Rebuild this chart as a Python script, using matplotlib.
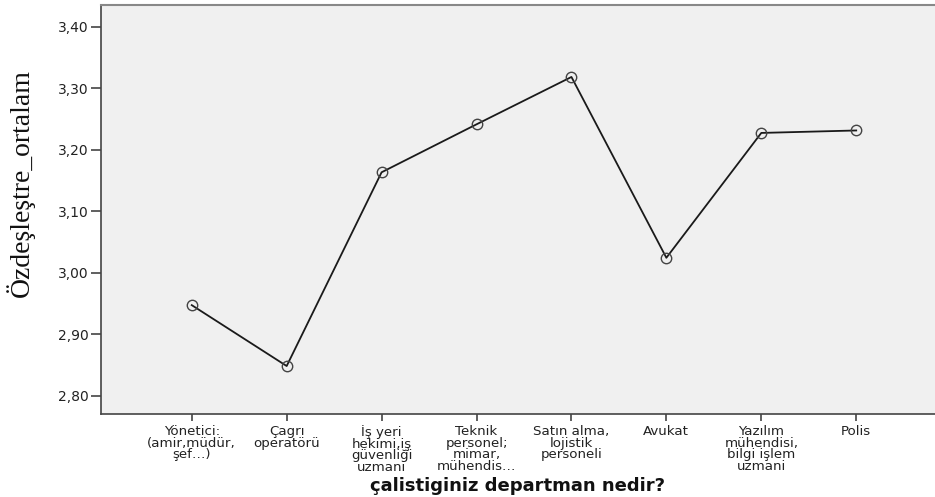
import matplotlib
matplotlib.use("Agg")
import matplotlib.pyplot as plt
from matplotlib.ticker import FixedLocator, FuncFormatter

categories = [
    "Yönetici:\n(amir,müdür,\nşef…)",
    "Çagrı\noperatörü",
    "İş yeri\nhekimi,iş\ngüvenliği\nuzmani",
    "Teknik\npersonel;\nmimar,\nmühendis…",
    "Satın alma,\nlojistik\npersoneli",
    "Avukat",
    "Yazılım\nmühendisi,\nbilgi işlem\nuzmani",
    "Polis",
]
values = [2.947, 2.848, 3.163, 3.241, 3.318, 3.024, 3.227, 3.231]
yticks = [2.80, 2.90, 3.00, 3.10, 3.20, 3.30, 3.40]
xlabel = "çalistiginiz departman nedir?"
ylabel = "Özdeşleştre_ortalam"

W, H = 935, 497
fig = plt.figure(figsize=(W / 100, H / 100), dpi=100)
fig.patch.set_facecolor("white")
left, right, top, bottom = 101, 935, 5, 414
ax = fig.add_axes([left / W, 1 - bottom / H, (right - left) / W, (bottom - top) / H])
ax.set_facecolor("#f0f0f0")

x = list(range(len(categories)))
ax.plot(x, values, color="#1a1a1a", linewidth=1.3, marker="o", markersize=7.5,
        markerfacecolor="none", markeredgecolor="#444444", markeredgewidth=1.0,
        clip_on=False)

ax.set_xlim(-0.956, 7.83)
ax.set_ylim(2.770, 3.435)
ax.yaxis.set_major_locator(FixedLocator(yticks))
ax.yaxis.set_major_formatter(FuncFormatter(lambda v, p: f"{v:.2f}".replace(".", ",")))
ax.set_xticks(x)
ax.set_xticklabels(categories, fontfamily="DejaVu Sans", fontsize=9.6, linespacing=0.86,
                   color="#222222")
for lab in ax.get_yticklabels():
    lab.set_fontfamily("DejaVu Sans")
    lab.set_fontsize(10)
    lab.set_color("#222222")

ax.tick_params(axis="x", direction="out", length=5, width=1.2, color="#444444", pad=3)
ax.tick_params(axis="y", direction="out", length=7, width=1.2, color="#444444", pad=2)

for s in ["left", "bottom"]:
    ax.spines[s].set_color("#444444")
    ax.spines[s].set_linewidth(1.2)
ax.spines["top"].set_color("#888888")
ax.spines["top"].set_linewidth(1.5)
ax.spines["right"].set_visible(False)

fig.text((left + right) / 2 / W, 1 - 486 / H, xlabel, ha="center", va="center",
         fontfamily="DejaVu Sans", fontweight="bold", fontsize=13, color="#111111")
fig.text(20 / W, 1 - 183 / H, ylabel, ha="center", va="center", rotation=90,
         fontfamily="Liberation Serif", fontsize=20, color="#111111")

fig.savefig("out.png", dpi=100)
